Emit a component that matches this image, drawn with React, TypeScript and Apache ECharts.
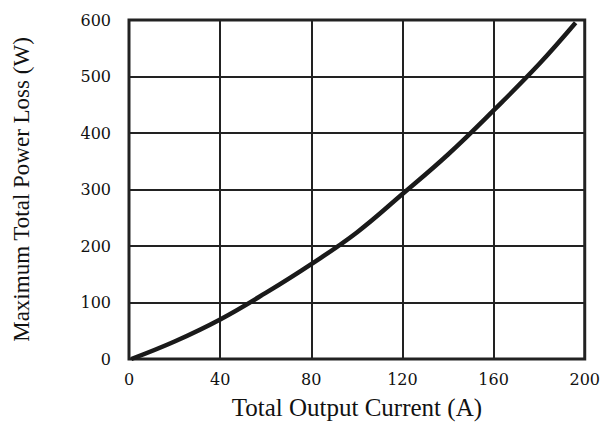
import React, { useEffect, useRef } from "react";
import * as echarts from "echarts";

const currentA = [1, 20, 40, 60, 80, 100, 120, 140, 160, 180, 196];
const lossW = [0, 31, 70, 117, 168, 224, 292, 362, 440, 522, 595];
const xTicks = [0, 40, 80, 120, 160, 200];
const yTicks = [0, 100, 200, 300, 400, 500, 600];
const xTitle = "Total Output Current (A)";
const yTitle = "Maximum Total Power Loss (W)";

export default function App() {
  const ref = useRef<HTMLDivElement>(null);
  useEffect(() => {
    if (!ref.current) return;
    const chart = echarts.init(ref.current, undefined, { renderer: "svg" });
    const tickFont = { fontFamily: "DejaVu Serif", fontSize: 16, color: "#111" };
    chart.setOption({
      animation: false,
      backgroundColor: "#fff",
      grid: {
        left: 129,
        right: 17,
        top: 20,
        bottom: 71,
        show: true,
        borderColor: "#222",
        borderWidth: 3,
        backgroundColor: "transparent",
      },
      xAxis: {
        type: "value",
        min: xTicks[0],
        max: xTicks[xTicks.length - 1],
        interval: 40,
        name: xTitle,
        nameLocation: "middle",
        nameGap: 48,
        nameTextStyle: {
          fontFamily: "Liberation Serif",
          fontSize: 25,
          color: "#111",
          verticalAlign: "middle",
        },
        axisLine: { show: false },
        axisTick: { show: false },
        axisLabel: { ...tickFont, margin: 12 },
        splitLine: { show: true, lineStyle: { color: "#222", width: 2 } },
      },
      yAxis: {
        type: "value",
        min: yTicks[0],
        max: yTicks[yTicks.length - 1],
        interval: 100,
        name: yTitle,
        nameLocation: "middle",
        nameGap: 108,
        nameTextStyle: {
          fontFamily: "Liberation Serif",
          fontSize: 23,
          color: "#111",
          verticalAlign: "middle",
        },
        axisLine: { show: false },
        axisTick: { show: false },
        axisLabel: { ...tickFont, margin: 18 },
        splitLine: { show: true, lineStyle: { color: "#222", width: 2 } },
      },
      series: [
        {
          type: "line",
          data: currentA.map((a, i) => [a, lossW[i]]),
          smooth: 0.4,
          showSymbol: false,
          lineStyle: { color: "#1a1a1a", width: 4.5 },
          z: 5,
        },
      ],
    });
    return () => chart.dispose();
  }, []);
  return <div ref={ref} style={{ width: 603, height: 430, position: "absolute", left: 0, top: 0 }} />;
}
